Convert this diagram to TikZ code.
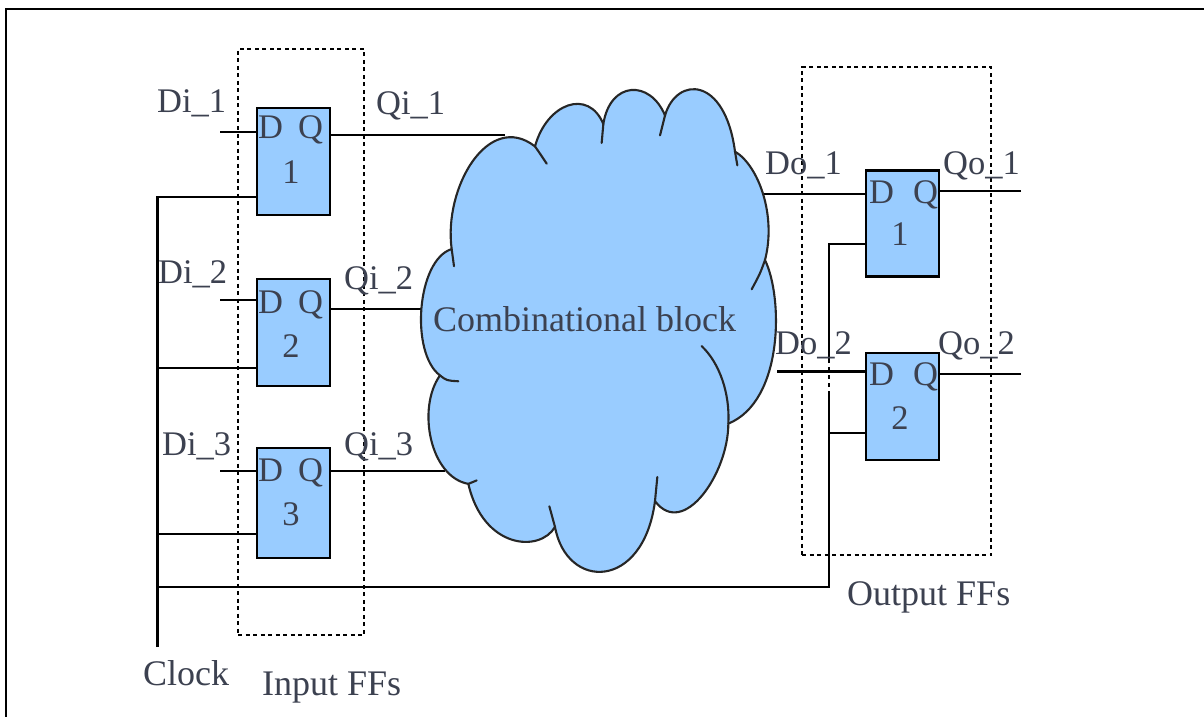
\documentclass[tikz,border=0pt]{standalone}
\usepackage{fontspec}
\setmainfont{Liberation Serif}
\definecolor{ffblue}{HTML}{99CCFF}
\definecolor{labelcol}{HTML}{3C4150}
\tikzset{
  wire/.style={line width=2.4pt,black,line cap=butt},
  ffbox/.style={draw=black,fill=ffblue,line width=2.6pt,minimum width=73pt,inner sep=0pt},
  group/.style={draw=black,line width=2pt,dash pattern=on 4pt off 3.5pt,inner sep=0pt},
  lbl/.style={anchor=base west,inner sep=0pt,text=labelcol,font=\fontsize{34.5}{40}\selectfont},
  big/.style={lbl,font=\fontsize{36}{40}\selectfont},
  num/.style={anchor=base,inner sep=0pt,text=labelcol,font=\fontsize{34.5}{40}\selectfont},
  cloudline/.style={draw=black!85,line width=2.1pt,line cap=round,line join=round}
}
\begin{document}
\begin{tikzpicture}[x=1pt,y=-1pt]
\useasboundingbox (0,0) rectangle (1204,717);
\fill[white] (0,0) rectangle (1204,717);
% page frame (open on right and bottom)
\coordinate (frameA) at (1204,9);
\coordinate (frameB) at (6,9);
\coordinate (frameC) at (6,717);
\draw[line width=2.4pt,black] (frameA) -- (frameB) -- (frameC);

% flip-flop boxes
\node[ffbox,minimum height=107pt] (i1) at (293.5,161.5) {};
\node[ffbox,minimum height=107pt] (i2) at (293.5,332.5) {};
\node[ffbox,minimum height=110pt] (i3) at (293.5,503) {};
\node[ffbox,minimum height=106pt] (o1) at (902.5,223.5) {};
\node[ffbox,minimum height=107pt] (o2) at (902.5,406.5) {};

% free ends
\coordinate (di1) at (220,132);
\coordinate (di2) at (220,300);
\coordinate (di3) at (220,471);
\coordinate (clkTop) at (157.5,197);
\coordinate (clkBot) at (157.5,647);
\coordinate (clkB2) at (157.5,368);
\coordinate (clkB3) at (157.5,534);
\coordinate (clkB4) at (157.5,587);
\coordinate (clkCorner) at (829,587);
\coordinate (clkUpA) at (829,395);
\coordinate (clkUpB) at (829,362);
\coordinate (clkUpC) at (829,244);
\coordinate (clkO2) at (829,433);
\coordinate (cq1) at (505,135);
\coordinate (cq2) at (425,309);
\coordinate (cq3) at (445,471);
\coordinate (cd1) at (760,194);
\coordinate (cd2) at (777,371.5);
\coordinate (qo1) at (1021,191);
\coordinate (qo2) at (1021,374);

% wires
\draw[wire] (di1) -- (di1 -| i1.west);
\draw[wire] (di2) -- (di2 -| i2.west);
\draw[wire] (di3) -- (di3 -| i3.west);
\draw[wire] (clkBot) -- (clkTop) -- (clkTop -| i1.west);
\draw[wire] (clkB2) -- (clkB2 -| i2.west);
\draw[wire] (clkB3) -- (clkB3 -| i3.west);
\draw[wire] (clkB4) -- (clkCorner) -- (clkUpA);
\draw[wire,dash pattern=on 4pt off 4pt] (clkUpA) -- (clkUpB);
\draw[wire] (clkUpB) -- (clkUpC) -- (clkUpC -| o1.west);
\draw[wire] (clkO2) -- (clkO2 -| o2.west);
\draw[wire] (cq1) -- (cq1 -| i1.east);
\draw[wire] (cq2) -- (cq2 -| i2.east);
\draw[wire] (cq3) -- (cq3 -| i3.east);
\draw[wire] (cd1) -- (cd1 -| o1.west);
\draw[wire] (cd2) -- (cd2 -| o2.west);
\draw[wire] (qo1) -- (qo1 -| o1.east);
\draw[wire] (qo2) -- (qo2 -| o2.east);

% cloud
\begin{scope}[shift={(400pt,-50pt)},x=0.33333pt,y=-0.34435pt]
\path[cloudline,fill=ffblue] (155,578)
  .. controls (130,400) and (265,175) .. (405,280)
  .. controls (440,155) and (565,110) .. (610,215)
  .. controls (630,90) and (750,85) .. (795,190)
  .. controls (830,75) and (975,75) .. (1005,295)
  .. controls (1075,335) and (1130,480) .. (1095,610)
  .. controls (1150,720) and (1150,1020) .. (985,1085)
  .. controls (985,1230) and (850,1420) .. (765,1310)
  .. controls (730,1570) and (500,1570) .. (465,1385)
  .. controls (420,1460) and (250,1450) .. (205,1260)
  .. controls (90,1240) and (50,1040) .. (120,945)
  .. controls (30,880) and (50,610) .. (155,578) -- cycle;
\draw[cloudline] (405,280) .. controls (418,298) .. (440,330);
\draw[cloudline] (610,215) -- (605,270);
\draw[cloudline] (795,190) -- (780,248);
\draw[cloudline] (1005,295) -- (1012,335);
\draw[cloudline] (1095,610) .. controls (1080,650) .. (1055,695);
\draw[cloudline] (905,860) .. controls (960,910) and (990,1000) .. (985,1085);
\draw[cloudline] (765,1310) -- (772,1240);
\draw[cloudline] (465,1385) -- (448,1325);
\draw[cloudline] (205,1260) -- (230,1250);
\draw[cloudline] (120,945) .. controls (140,960) .. (175,962);
\draw[cloudline] (155,578) -- (162,628);
\end{scope}

% dashed groups
\node[group,minimum width=126pt,minimum height=586pt] (inGroup) at (301,342) {};
\node[group,minimum width=189pt,minimum height=488pt] (outGroup) at (896.5,311) {};

% box letters
\node[lbl] (i1d) at (258,138.5) {D};
\node[lbl] (i1q) at (298,138.5) {Q};
\node[num] (i1n) at (291,183) {1};
\node[lbl] (i2d) at (258,313) {D};
\node[lbl] (i2q) at (298,313) {Q};
\node[num] (i2n) at (291,357) {2};
\node[lbl] (i3d) at (258,481) {D};
\node[lbl] (i3q) at (298,481) {Q};
\node[num] (i3n) at (291,525) {3};
\node[lbl] (o1d) at (869,203) {D};
\node[lbl] (o1q) at (913,203) {Q};
\node[num] (o1n) at (900,245) {1};
\node[lbl] (o2d) at (869,385) {D};
\node[lbl] (o2q) at (913,385) {Q};
\node[num] (o2n) at (900,429) {2};

% signal labels
\node[lbl] (lDi1) at (157,112) {Di\_1};
\node[lbl] (lDi2) at (158,283.5) {Di\_2};
\node[lbl] (lDi3) at (162,455) {Di\_3};
\node[lbl] (lQi1) at (376,114) {Qi\_1};
\node[lbl] (lQi2) at (344,289) {Qi\_2};
\node[lbl] (lQi3) at (344,455) {Qi\_3};
\node[lbl] (lDo1) at (765,174) {Do\_1};
\node[lbl] (lDo2) at (775,354) {Do\_2};
\node[lbl] (lQo1) at (943,174) {Qo\_1};
\node[lbl] (lQo2) at (938,354) {Qo\_2};
\node[big] (lClock) at (143,685) {Clock};
\node[big] (lIn) at (262,695) {Input FFs};
\node[big] (lOut) at (847,605) {Output FFs};
\node[big] (lComb) at (433,331) {Combinational block};
\end{tikzpicture}
\end{document}
